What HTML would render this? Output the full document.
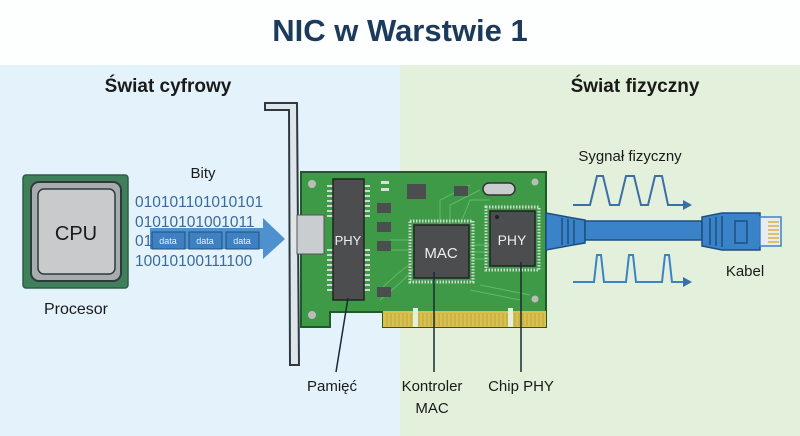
<!DOCTYPE html>
<html><head><meta charset="utf-8"><style>
body{margin:0;width:800px;height:436px;overflow:hidden;background:#fff;font-family:"Liberation Sans",sans-serif}
svg{display:block}
</style></head><body>
<svg width="800" height="436" viewBox="0 0 800 436" xmlns="http://www.w3.org/2000/svg" font-family="Liberation Sans, sans-serif">
<rect x="0" y="0" width="800" height="65" fill="#fdfefe"/>
<rect x="0" y="65" width="400" height="371" fill="#e4f2fb"/>
<rect x="400" y="65" width="400" height="371" fill="#e2f0dc"/>
<text x="400" y="41" text-anchor="middle" font-size="31" font-weight="bold" fill="#1c3a5c">NIC w Warstwie 1</text>
<text x="168" y="92" text-anchor="middle" font-size="19" font-weight="bold" fill="#1a1a1a">Świat cyfrowy</text>
<text x="635" y="92" text-anchor="middle" font-size="19" font-weight="bold" fill="#1a1a1a">Świat fizyczny</text>

<!-- CPU -->
<rect x="23" y="175" width="105" height="113" rx="3" fill="#3f7f5a" stroke="#2e5f45" stroke-width="1.5"/>
<rect x="31" y="182" width="90" height="99" rx="8" fill="#a8acae" stroke="#2e3a3e" stroke-width="2"/>
<rect x="38" y="189" width="77" height="85" rx="6" fill="#c8cacc" stroke="#2e3a3e" stroke-width="1.5"/>
<text x="76" y="240" text-anchor="middle" font-size="20" fill="#1a1a1a">CPU</text>
<text x="76" y="314" text-anchor="middle" font-size="16" fill="#1a1a1a">Procesor</text>

<text x="203" y="178" text-anchor="middle" font-size="15" fill="#1a1a1a">Bity</text>
<polygon points="150,228 263,228 263,218 285,239 263,259 263,249 150,249" fill="#4f90cf"/>
<g font-size="15.5" fill="#3a6a9e" font-family="Liberation Sans, sans-serif">
<text x="135" y="207">010101101010101</text>
<text x="135" y="227">01010101001011</text>
<text x="135" y="246">01</text>
<text x="135" y="266">10010100111100</text>
</g>
<g font-size="9" fill="#e6f0fa" text-anchor="middle">
<rect x="152" y="232" width="33" height="17" fill="#3f80c0" stroke="#23507e"/><text x="168" y="244">data</text>
<rect x="189" y="232" width="33" height="17" fill="#3f80c0" stroke="#23507e"/><text x="205" y="244">data</text>
<rect x="226" y="232" width="33" height="17" fill="#3f80c0" stroke="#23507e"/><text x="242" y="244">data</text>
</g>

<!-- bracket -->
<path d="M265,103 L297,103 L299,365 L290,365 L289,110 L265,110 Z" fill="#dfe6ea" stroke="#2e3a42" stroke-width="2"/>

<!-- PCB -->
<path d="M301,172 L546,172 L546,327 L383,327 L383,312 L330,312 L330,327 L301,327 Z" fill="#3e9a46" stroke="#1f5a2a" stroke-width="2"/>
<rect x="297" y="215" width="27" height="39" fill="#c9cdd0" stroke="#555" stroke-width="1"/>
<rect x="383" y="311" width="163" height="16" fill="#d9c14f"/>
<g stroke="#bfa53a" stroke-width="1">
<path d="M387,313v13M391,313v13M395,313v13M399,313v13M403,313v13M407,313v13M411,313v13M415,313v13M419,313v13M423,313v13M427,313v13M431,313v13M435,313v13M439,313v13M443,313v13M447,313v13M451,313v13M455,313v13M459,313v13M463,313v13M467,313v13M471,313v13M475,313v13M479,313v13M483,313v13M487,313v13M491,313v13M495,313v13M499,313v13M503,313v13M507,313v13M511,313v13M515,313v13M519,313v13M523,313v13M527,313v13M531,313v13M535,313v13M539,313v13M543,313v13"/>
</g>
<rect x="413" y="308" width="5" height="19" fill="#e2f0dc"/>
<rect x="508" y="308" width="5" height="19" fill="#e2f0dc"/>
<g stroke="#6cc070" stroke-width="1" fill="none" opacity="0.8">
<path d="M380,290 Q400,270 414,262 M380,300 Q405,280 414,268 M470,245 L490,245 M470,252 L490,252 M470,259 L490,259 M440,225 L440,200 L470,185 M450,225 L450,205 L480,190 M460,225 L470,200 L490,200 M390,240 L414,240 M390,250 L414,250 M470,290 L520,300 M480,285 L530,295"/>
</g>
<circle cx="312" cy="184" r="4" fill="#bbb"/><circle cx="312" cy="315" r="4" fill="#bbb"/>
<circle cx="535" cy="182" r="3.5" fill="#bbb"/><circle cx="535" cy="299" r="3.5" fill="#bbb"/>
<!-- memory chip -->
<g stroke="#cfd8d4" stroke-width="2">
<path d="M327,186h6M327,191h6M327,196h6M327,201h6M327,206h6M327,211h6M327,216h6M327,250h6M327,255h6M327,260h6M327,265h6M327,270h6M327,275h6M327,280h6M327,285h6M327,290h6"/>
<path d="M364,186h6M364,191h6M364,196h6M364,201h6M364,206h6M364,211h6M364,216h6M364,250h6M364,255h6M364,260h6M364,265h6M364,270h6M364,275h6M364,280h6M364,285h6M364,290h6"/>
</g>
<rect x="333" y="179" width="31" height="121" fill="#4b4d4f" stroke="#222" stroke-width="1.5"/>
<text x="348" y="245" text-anchor="middle" font-size="13" fill="#eee">PHY</text>
<!-- small parts -->
<rect x="377" y="203" width="14" height="10" fill="#4b4d4f"/><rect x="377" y="222" width="14" height="10" fill="#4b4d4f"/>
<rect x="377" y="241" width="14" height="10" fill="#4b4d4f"/><rect x="377" y="287" width="14" height="10" fill="#4b4d4f"/>
<rect x="407" y="184" width="19" height="15" fill="#4b4d4f"/><rect x="454" y="186" width="14" height="10" fill="#4b4d4f"/>
<rect x="381" y="181" width="8" height="3" fill="#ddd"/><rect x="381" y="188" width="8" height="3" fill="#ddd"/>
<rect x="483" y="183" width="32" height="12" rx="6" fill="#c9cdd0" stroke="#333" stroke-width="1.5"/>
<!-- MAC -->
<rect x="410" y="221" width="63" height="61" fill="none" stroke="#cfd8d4" stroke-width="3" stroke-dasharray="1.5,1.5"/>
<rect x="414" y="225" width="55" height="53" fill="#4b4d4f" stroke="#222" stroke-width="1.5"/>
<text x="441" y="258" text-anchor="middle" font-size="15" fill="#eee">MAC</text>
<!-- PHY right -->
<rect x="486" y="207" width="53" height="63" fill="none" stroke="#cfd8d4" stroke-width="3" stroke-dasharray="1.5,1.5"/>
<rect x="490" y="211" width="45" height="55" fill="#4b4d4f" stroke="#222" stroke-width="1.5"/>
<circle cx="497" cy="217" r="2" fill="#222"/>
<text x="512" y="245" text-anchor="middle" font-size="14" fill="#eee">PHY</text>

<!-- cable -->
<path d="M546,213 L573,218 L585,220 L585,243 L573,245 L546,250 Z" fill="#3a83c9" stroke="#1d4f80" stroke-width="1.5"/>
<g stroke="#1d4f80" stroke-width="1.5"><path d="M562,218v27M568,219v25M574,220v24"/></g>
<rect x="585" y="221" width="117" height="19" fill="#3a83c9" stroke="#1d4f80" stroke-width="1.5"/>
<path d="M702,217 L722,213 L760,213 L760,250 L722,250 L702,246 Z" fill="#3a83c9" stroke="#1d4f80" stroke-width="1.5"/>
<g stroke="#1d4f80" stroke-width="1.5"><path d="M710,218v27M716,217v29M722,216v31"/></g>
<rect x="735" y="221" width="12" height="22" fill="none" stroke="#1d4f80" stroke-width="1.5"/>
<rect x="760" y="217" width="21" height="29" fill="#e8ecee" stroke="#3a83c9" stroke-width="1.5"/>
<g stroke="#d9b040" stroke-width="1.5"><path d="M768,222h11M768,226h11M768,230h11M768,234h11M768,238h11M768,242h11"/></g>
<text x="745" y="276" text-anchor="middle" font-size="15" fill="#1a1a1a">Kabel</text>

<!-- waves -->
<text x="630" y="161" text-anchor="middle" font-size="15" fill="#1a1a1a">Sygnał fizyczny</text>
<path d="M573,205 L590,205 L597,176 L603,176 L610,205 L619,205 L626,176 L634,176 L641,205 L648,205 L655,176 L662,176 L668,205 L685,205" fill="none" stroke="#3a6ea5" stroke-width="2"/>
<polygon points="683,200 692,205 683,210" fill="#3a6ea5"/>
<path d="M573,282 L594,282 L597,255 L601,255 L604,282 L626,282 L629,255 L633,255 L636,282 L662,282 L665,255 L669,255 L672,282 L685,282" fill="none" stroke="#3a83c9" stroke-width="2"/>
<polygon points="683,277 692,282 683,287" fill="#3a6ea5"/>

<!-- leader lines -->
<g stroke="#1a2a35" stroke-width="1.5">
<line x1="348" y1="298" x2="336" y2="372"/>
<line x1="434" y1="272" x2="434" y2="372"/>
<line x1="521" y1="262" x2="521" y2="372"/>
</g>
<g font-size="15" fill="#1a1a1a" text-anchor="middle">
<text x="332" y="391">Pamięć</text>
<text x="432" y="391">Kontroler</text>
<text x="432" y="413">MAC</text>
<text x="521" y="391">Chip PHY</text>
</g>
</svg>
</body></html>
